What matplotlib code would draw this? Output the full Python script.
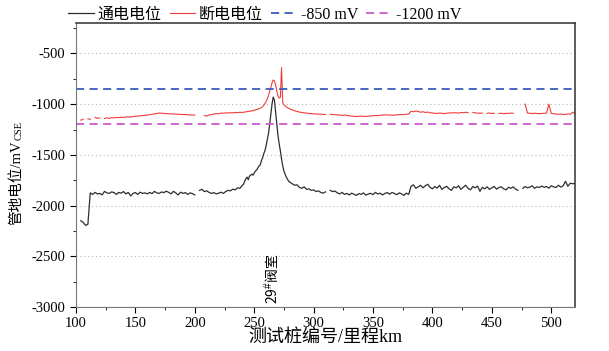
import numpy as np
import matplotlib
matplotlib.use('Agg')
import matplotlib.pyplot as plt
from matplotlib.ticker import MultipleLocator

plt.rcParams['font.family'] = ['Liberation Serif', 'Noto Sans CJK SC']
plt.rcParams['mathtext.fontset'] = 'custom'
plt.rcParams['mathtext.rm'] = 'Liberation Sans'
plt.rcParams['axes.unicode_minus'] = False

nan = np.nan

# --- DONNEES ---
km = [104, 106, 108, 110, 112, 114, 116, 118, 120, 122,
      124, 126, 128, 130, 132, 134, 136, 138, 140, 142,
      144, 146, 148, 150, 152, 154, 156, 158, 160, 162,
      164, 166, 168, 170, 172, 174, 176, 178, 180, 182,
      184, 186, 188, 190, 192, 194, 196, 198, 200, 202,
      204, 206, 208, 210, 212, 214, 216, 218, 220, 222,
      224, 226, 228, 230, 232, 234, 236, 238, 240,
      241, 242, 243, 244, 245, 246, 247, 248, 249, 250,
      251, 252, 253, 254, 255, 256, 257, 258, 259, 260,
      261, 262, 263, 264, 265, 266, 267, 268, 269, 270,
      271, 272, 273, 274, 275, 276, 277, 278, 279, 280,
      282, 284, 286, 288, 290, 292, 294, 296, 298, 300,
      302, 304, 306, 308, 310, 312, 314, 316, 318, 320,
      322, 324, 326, 328, 330, 332, 334, 336, 338, 340,
      342, 344, 346, 348, 350, 352, 354, 356, 358, 360,
      362, 364, 366, 368, 370, 372, 374, 376, 378, 380,
      382, 384, 386, 388, 390, 392, 394, 396, 398, 400,
      402, 404, 406, 408, 410, 412, 414, 416, 418, 420,
      422, 424, 426, 428, 430, 432, 434, 436, 438, 440,
      442, 444, 446, 448, 450, 452, 454, 456, 458, 460,
      462, 464, 466, 468, 470, 472, 474,
      476, 478, 480, 482, 484, 486, 488, 490, 492, 494,
      496, 498, 500, 502, 504, 506, 508, 510, 512, 514,
      516, 518, 520]

# potentiel ON (mV)
v_on = [-2150, -2165, -2195, -2185, -1875, -1890, -1870, -1885, -1880, -1895,
        -1860, -1875, -1880, -1865, -1872, -1890, -1870, -1878, -1862, -1885,
        -1870, -1905, -1880, -1872, -1890, -1868, -1880, -1875, -1885, -1870,
        -1882, -1860, -1875, -1880, -1866, -1872, -1858, -1870, -1885, -1860,
        -1875, -1895, -1868, -1880, -1872, -1890, -1875, -1882, -1895, nan,
        -1850, -1840, -1862, -1855, -1870, -1880, -1872, -1885, -1878, -1868,
        -1880, -1862, -1850, -1855, -1838, -1845, -1825, -1830, -1800,
        -1790, -1760, -1735, -1720, -1745, -1710, -1700, -1690, -1700, -1680,
        -1660, -1650, -1630, -1610, -1600, -1560, -1530, -1490, -1460, -1410,
        -1350, -1290, -1200, -1100, -1000, -930, -960, -1080, -1200, -1310,
        -1390, -1460, -1540, -1610, -1660, -1690, -1720, -1740, -1760, -1770,
        -1785, -1800, -1795, -1820, -1830, -1815, -1840, -1835, -1850, -1845,
        -1862, -1855, -1870, -1878, -1865, nan, -1850, -1862, -1858, -1875,
        -1885, -1870, -1890, -1880, -1895, -1878, -1888, -1900, -1882, -1890,
        -1875, -1898, -1885, -1880, -1892, -1870, -1885, -1878, -1895, -1880,
        -1872, -1888, -1870, -1882, -1893, -1875, -1885, -1900, -1878, -1890,
        -1810, -1795, -1830, -1815, -1800, -1825, -1805, -1790, -1820, -1835,
        -1812, -1828, -1800, -1840, -1822, -1810, -1835, -1850, -1815, -1825,
        -1805, -1840, -1818, -1800, -1830, -1845, -1812, -1825, -1808, -1860,
        -1820, -1835, -1815, -1840, -1825, -1812, -1838, -1822, -1815, -1835,
        -1845, -1820, -1830, -1815, -1838, -1850, nan,
        -1830, -1812, -1825, -1818, -1805, -1830, -1815, -1822, -1808, -1820,
        -1812, -1828, -1805, -1815, -1822, -1800, -1818, -1805, -1760, -1810,
        -1780, -1785, -1782]

# potentiel OFF (mV)
v_off = [-1158, -1150, nan, -1145, -1150, nan, -1130, -1140, -1136, nan,
         -1142, -1135, -1140, -1133, -1136, -1130, -1134, -1128, -1131, -1127,
         -1125, -1128, -1122, -1120, -1118, -1115, -1112, -1110, -1108, -1104,
         -1100, -1096, -1092, -1088, -1090, -1092, -1094, -1095, -1096, -1097,
         -1098, -1100, -1101, -1102, -1104, -1105, -1106, -1108, -1108, nan,
         nan, nan, -1112, -1118, -1108, -1102, -1098, -1094, -1095, -1088,
         -1090, -1086, -1088, -1084, -1086, -1082, -1084, -1080, -1082,
         -1080, -1078, -1075, -1074, -1072, -1070, -1068, -1066, -1064, -1060,
         -1057, -1054, -1050, -1046, -1040, -1034, -1025, -1012, -995, -975,
         -950, -915, -875, -835, -790, -762, -770, -810, -870, -920,
         -940, -935, -640, -985, -1005, -1018, -1028, -1035, -1042, -1047,
         -1058, -1066, -1072, -1078, -1082, -1086, -1088, -1092, -1094, -1095,
         -1097, -1098, -1100, -1100, -1102, nan, -1100, -1102, -1104, -1105,
         -1108, -1110, -1108, -1112, -1115, -1118, -1120, -1122, -1120, -1118,
         -1120, -1122, -1118, -1116, -1114, -1112, -1114, -1110, -1108, -1105,
         -1108, -1106, -1110, -1108, -1106, -1104, -1102, -1104, -1100, -1098,
         -1070, -1075, -1068, -1072, -1080, -1075, -1082, -1078, -1085, -1088,
         -1090, -1092, -1088, -1090, -1093, -1090, -1086, -1088, -1084, -1086,
         -1088, -1082, -1085, -1080, -1084, nan, -1082, -1086, -1090, -1088,
         -1090, nan, -1090, -1088, -1092, -1090, nan, -1092, -1090, -1094,
         -1090, -1092, -1088, -1090, nan, nan, nan,
         nan, -1000, -1088, -1090, -1092, -1090, -1092, -1094, -1092, -1090,
         -1088, -1000, -1090, -1095, -1098, -1100, -1098, -1102, -1100, -1098,
         -1100, -1080, -1095]

assert len(km) == len(v_on) == len(v_off)

seuil_850 = -850
seuil_1200 = -1200
noms = ['通电电位', '断电电位', '-850 mV', '-1200 mV']
km_vanne = 265
label_vanne = '29$^{\\#}$阀室'

# --- FIGURE ---
W, H = 609, 351
fig = plt.figure(figsize=(W / 100, H / 100), dpi=100)
ax = fig.add_axes([76 / W, 1 - 307 / H, (575 - 76) / W, (307 - 23) / H])

l_on, = ax.plot(km, v_on, color='#2e2e2e', lw=0.9)
l_off, = ax.plot(km, v_off, color='#f03c3c', lw=0.8)
l_850 = ax.axhline(seuil_850, color='#3a5cb8', lw=1.3, ls=(0, (4.5, 3)))
l_1200 = ax.axhline(seuil_1200, color='#cc5acc', lw=1.3, ls=(0, (4.5, 3)))

ax.set_xlim(100, 520)
ax.set_ylim(-3000, -200)
ax.set_yticks(np.arange(-3000, -499, 500))
ax.xaxis.set_major_locator(MultipleLocator(50))
ax.xaxis.set_minor_locator(MultipleLocator(25))
ax.yaxis.set_minor_locator(MultipleLocator(250))
ax.tick_params(which='both', direction='out', top=False, right=False, labelsize=10.5)
ax.tick_params(which='major', length=4)
ax.tick_params(which='minor', length=2.5)
ax.yaxis.grid(True, ls=(0, (1, 2.5)), color='#b5b5b5', lw=0.8)
ax.set_axisbelow(True)
for s in ['left', 'bottom']:
    ax.spines[s].set_color('#777777')
for s in ['top', 'right']:
    ax.spines[s].set_color('#303030')
    ax.spines[s].set_linewidth(1.1)

ax.set_xlabel('测试桩编号/里程km', fontsize=13, labelpad=-1)

ax.text(km_vanne, -2975, label_vanne, rotation=90, ha='center', va='bottom',
        fontsize=10, family=['Noto Sans CJK SC'])

# label Y avec indice CSE (assemble en morceaux)
r = fig.canvas.get_renderer()
t1 = fig.text(16 / W, 126 / H, '管地电位/mV', rotation=90, ha='center', va='bottom',
              fontsize=10.5)
bb = t1.get_window_extent(r)
fig.text((bb.x1 + 1) / W, bb.y1 / H, 'CSE', rotation=90, ha='right', va='bottom',
         fontsize=7.5)

fig.legend([l_on, l_off, l_850, l_1200], noms, loc='center left',
           bbox_to_anchor=(68 / W, 1 - 15 / H), ncol=4, frameon=False,
           fontsize=11.5, handlelength=1.6, handletextpad=0.25,
           columnspacing=0.5, borderaxespad=0, borderpad=0)

fig.savefig('out.png', dpi=100)
